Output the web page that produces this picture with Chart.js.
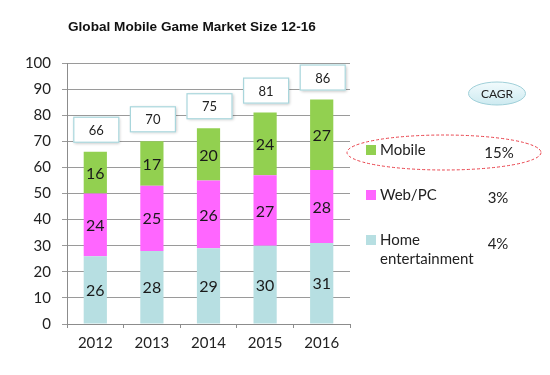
<!DOCTYPE html>
<html><head><meta charset="utf-8">
<script src="https://cdn.jsdelivr.net/npm/chart.js@4/dist/chart.umd.min.js"></script>
<style>html,body{margin:0;padding:0;background:#fff;}#wrap{width:550px;height:375px;position:relative;}</style>
</head><body><div id="wrap"><canvas id="c" width="550" height="375"></canvas></div>
<script>
const years = ['2012','2013','2014','2015','2016'];
const homeEnt = [26,28,29,30,31];
const webPC = [24,25,26,27,28];
const mobile = [16,17,20,24,27];
const totals = [66,70,75,81,86];
const seriesNames = ['Mobile','Web/PC','Home entertainment'];
const cagr = ['15%','3%','4%'];
const yTicks = [0,10,20,30,40,50,60,70,80,90,100];

const F = "Lato, 'Open Sans', sans-serif";
const colors = {home:'#b7dfe2', web:'#ff66ff', mobile:'#92d050'};

const overlay = {
  id:'overlay',
  afterDatasetsDraw(chart){
    const ctx = chart.ctx;
    ctx.save();
    // segment labels
    ctx.font = '16px ' + F;
    ctx.fillStyle = '#1a1a1a';
    ctx.textAlign = 'center'; ctx.textBaseline = 'middle';
    chart.data.datasets.forEach((ds, di) => {
      chart.getDatasetMeta(di).data.forEach((el, i) => {
        ctx.fillText(String(ds.data[i]), el.x, (el.y + el.base)/2 + 1);
      });
    });
    // total boxes
    const ys = chart.scales.y;
    const meta = chart.getDatasetMeta(0);
    totals.forEach((t, i) => {
      const cx = meta.data[i].x + 1;
      const top = ys.getPixelForValue(t);
      const w = 46, h = 26;
      const bx = cx - w/2, by = top - 9 - h;
      ctx.shadowColor = 'rgba(0,0,0,0.25)'; ctx.shadowBlur = 3; ctx.shadowOffsetX = 1; ctx.shadowOffsetY = 1;
      ctx.fillStyle = '#fff'; ctx.fillRect(bx, by, w, h);
      ctx.shadowColor = 'transparent';
      ctx.strokeStyle = '#a9d6dc'; ctx.lineWidth = 1.2; ctx.strokeRect(bx+0.5, by+0.5, w-1, h-1);
      ctx.fillStyle = '#222'; ctx.font = '13px ' + F;
      ctx.fillText(String(t), cx, by + h/2 + 1);
    });
    // title
    ctx.font = "bold 13.6px 'Liberation Sans', Arial, sans-serif";
    ctx.fillStyle = '#111'; ctx.textAlign = 'left';
    ctx.fillText('Global Mobile Game Market Size 12-16', 68, 27);
    // CAGR ellipse
    const g = ctx.createLinearGradient(0, 82, 0, 105);
    g.addColorStop(0, '#f2fbfd'); g.addColorStop(1, '#cdeaf0');
    ctx.beginPath(); ctx.ellipse(497, 93.5, 28.5, 11.5, 0, 0, Math.PI*2);
    ctx.fillStyle = g; ctx.fill();
    ctx.strokeStyle = '#9fcfd8'; ctx.lineWidth = 1; ctx.stroke();
    ctx.fillStyle = '#222'; ctx.font = '12px ' + F; ctx.textAlign = 'center';
    ctx.fillText('CAGR', 497, 94);
    // legend
    const legColors = [colors.mobile, colors.web, colors.home];
    const legY = [150, 195, 240];
    const pctX = [499, 498, 498];
    const pctY = [153, 198, 244];
    ctx.font = '15px ' + F;
    seriesNames.forEach((n, i) => {
      ctx.fillStyle = legColors[i];
      ctx.fillRect(366, legY[i]-5, 10, 10);
      ctx.fillStyle = '#222'; ctx.textAlign = 'left';
      if (n === 'Home entertainment') {
        ctx.fillText('Home', 380, legY[i]);
        ctx.fillText('entertainment', 380, legY[i] + 19);
      } else {
        ctx.fillText(n, 380, legY[i]);
      }
      ctx.textAlign = 'center';
      ctx.fillText(cagr[i], pctX[i], pctY[i]);
    });
    // red dashed ellipse
    ctx.beginPath(); ctx.setLineDash([3,2]);
    ctx.ellipse(444, 152.5, 97, 17.5, 0, 0, Math.PI*2);
    ctx.strokeStyle = '#e8404a'; ctx.lineWidth = 1; ctx.stroke();
    ctx.setLineDash([]);
    ctx.restore();
  }
};

new Chart(document.getElementById('c'), {
  type:'bar',
  data:{
    labels: years,
    datasets:[
      {label:'Home entertainment', data: homeEnt, backgroundColor: colors.home},
      {label:'Web/PC', data: webPC, backgroundColor: colors.web},
      {label:'Mobile', data: mobile, backgroundColor: colors.mobile}
    ]
  },
  options:{
    responsive:false, animation:false,
    layout:{padding:{top:63, right:200, left:0, bottom:0}},
    datasets:{bar:{categoryPercentage:1, barPercentage:0.41, borderWidth:0}},
    plugins:{legend:{display:false}, tooltip:{enabled:false}, title:{display:false}},
    scales:{
      x:{
        stacked:true,
        grid:{drawOnChartArea:false, drawTicks:true, tickLength:4, color:'#8c8c8c', offset:true},
        border:{display:true, color:'#8c8c8c'},
        ticks:{font:{family:F, size:15}, color:'#222', padding:6, maxRotation:0},
        afterFit(s){ s.height = 51; }
      },
      y:{
        stacked:true, min:0, max:100,
        afterBuildTicks(s){ s.ticks = yTicks.map(v => ({value:v})); },
        grid:{color:'#9a9a9a', tickLength:5},
        border:{display:true, color:'#8c8c8c'},
        ticks:{font:{family:F, size:15}, color:'#222', padding:11},
        afterFit(s){ s.width = 67; }
      }
    }
  },
  plugins:[overlay]
});
</script>
</body></html>
